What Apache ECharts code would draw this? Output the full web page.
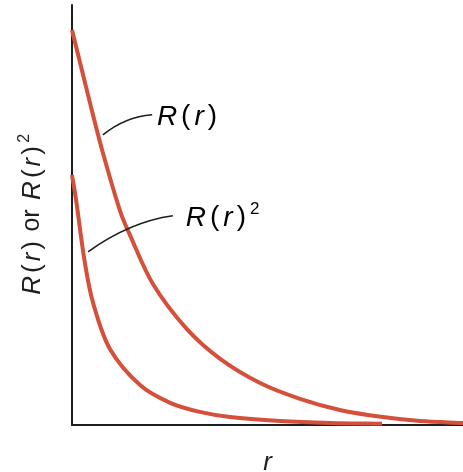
<!DOCTYPE html>
<html>
<head>
<meta charset="utf-8">
<script src="https://cdn.jsdelivr.net/npm/echarts@6/dist/echarts.min.js"></script>
<style>
  html, body { margin: 0; padding: 0; background: #fff; }
  #chart { width: 463px; height: 472px; }
</style>
</head>
<body>
<div id="chart"></div>
<script>
// Radial function R(r) and its square, sampled along r
const rR   = [0, 0.46, 0.79, 1.23, 1.48, 2.07, 2.94, 3.79, 4.81, 5.83, 6.85, 7.95, 8.90, 10];
const valR = [0.997, 0.813, 0.687, 0.540, 0.480, 0.356, 0.242, 0.167, 0.106, 0.066, 0.038, 0.020, 0.010, 0.005];

const rR2   = [0, 0.10, 0.33, 0.54, 0.97, 1.74, 2.51, 3.27, 4.04, 5.32, 6.60, 7.93];
const valR2 = [0.631, 0.571, 0.409, 0.308, 0.192, 0.101, 0.056, 0.033, 0.020, 0.010, 0.005, 0.003];

// Callout leaders (start, control, end) and label anchors, in data units
const leaderR  = [[0.79, 0.732], [1.36, 0.778], [2.05, 0.783]];
const labelR   = [2.12, 0.778];
const leaderR2 = [[0.41, 0.437], [1.48, 0.513], [2.58, 0.528]];
const labelR2  = [2.86, 0.523];

const RED = '#d4503a';
const INK = '#1e1e1e';
const FONT = '"Liberation Sans", Arial, sans-serif';

const chart = echarts.init(document.getElementById('chart'), null, { renderer: 'canvas' });

const pairs = (xs, ys) => xs.map((x, i) => [x, ys[i]]);

// Smooth curve through pixel points: cubic segments with chord-scaled tangents
function smoothPath(pts) {
  const n = pts.length;
  const d = [];
  for (let i = 0; i < n - 1; i++) {
    d.push(Math.hypot(pts[i + 1][0] - pts[i][0], pts[i + 1][1] - pts[i][1]));
  }
  const m = pts.map((p, i) => {
    if (i === 0) return [(pts[1][0] - p[0]) / d[0], (pts[1][1] - p[1]) / d[0]];
    if (i === n - 1) return [(p[0] - pts[i - 1][0]) / d[i - 1], (p[1] - pts[i - 1][1]) / d[i - 1]];
    const s = d[i - 1] + d[i];
    return [(pts[i + 1][0] - pts[i - 1][0]) / s, (pts[i + 1][1] - pts[i - 1][1]) / s];
  });
  let path = 'M' + pts[0][0] + ' ' + pts[0][1];
  for (let i = 0; i < n - 1; i++) {
    const k = d[i] / 3;
    const c1 = [pts[i][0] + m[i][0] * k, pts[i][1] + m[i][1] * k];
    const c2 = [pts[i + 1][0] - m[i + 1][0] * k, pts[i + 1][1] - m[i + 1][1] * k];
    path += ' C' + c1[0] + ' ' + c1[1] + ' ' + c2[0] + ' ' + c2[1] + ' ' + pts[i + 1][0] + ' ' + pts[i + 1][1];
  }
  return path;
}

function curveSeries(name, xs, ys) {
  const data = pairs(xs, ys);
  return {
    name: name, type: 'custom', z: 3, clip: false,
    encode: { x: 0, y: 1 },
    data: data,
    renderItem: function (params, api) {
      if (params.dataIndex !== 0) return null;
      const pts = data.map(p => api.coord(p));
      return {
        type: 'path',
        shape: { pathData: smoothPath(pts) },
        style: { stroke: RED, lineWidth: 4, fill: null, lineCap: 'butt', lineJoin: 'round' }
      };
    }
  };
}

const richText = {
  v: { fontFamily: FONT, fontStyle: 'italic', fontSize: 28, color: INK, padding: [0, 2] },
  p: { fontFamily: FONT, fontSize: 28, color: INK, padding: [0, 2] },
  s: { fontFamily: FONT, fontSize: 17, color: INK, padding: [0, 0, 16, 2] }
};
const axisRich = {
  v: { fontFamily: FONT, fontStyle: 'italic', fontSize: 26, color: INK, padding: [0, 1.5] },
  p: { fontFamily: FONT, fontSize: 26, color: INK, padding: [0, 1.5] },
  w: { fontFamily: FONT, fontSize: 25, color: INK, padding: [0, 1] },
  s: { fontFamily: FONT, fontSize: 16, color: INK, padding: [0, 0, 15, 2] }
};
const fn = '{v|R}{p|(}{v|r}{p|)}';

chart.setOption({
  animation: false,
  backgroundColor: '#fff',
  grid: { left: 72, right: 0, top: 5, bottom: 47, outerBoundsMode: 'none', containLabel: false },
  xAxis: {
    type: 'value', min: 0, max: 10,
    name: 'r', nameLocation: 'middle', nameGap: 25,
    nameTextStyle: { fontFamily: FONT, fontStyle: 'italic', fontSize: 26, color: INK },
    axisLine: { show: true, lineStyle: { color: INK, width: 2 } },
    axisTick: { show: false }, axisLabel: { show: false }, splitLine: { show: false }
  },
  yAxis: {
    type: 'value', min: 0, max: 1.06,
    name: fn + '{w| or }' + fn + '{s|2}', nameLocation: 'middle', nameGap: 24,
    nameTextStyle: { rich: axisRich },
    axisLine: { show: true, lineStyle: { color: INK, width: 2 } },
    axisTick: { show: false }, axisLabel: { show: false }, splitLine: { show: false }
  },
  series: [
    curveSeries('R(r)', rR, valR),
    curveSeries('R(r)^2', rR2, valR2)
  ]
});

// Leader curves and callout labels, placed through the grid's coordinate system
function px(p) { return chart.convertToPixel({ gridIndex: 0 }, p); }
function leader(pts) {
  const a = px(pts[0]), c = px(pts[1]), b = px(pts[2]);
  return {
    type: 'bezierCurve', z: 10,
    shape: { x1: a[0], y1: a[1], cpx1: c[0], cpy1: c[1], x2: b[0], y2: b[1] },
    style: { stroke: INK, lineWidth: 1.6, fill: null }
  };
}
function label(p, text) {
  const q = px(p);
  return {
    type: 'text', z: 10, x: q[0], y: q[1],
    style: { text: text, rich: richText, align: 'left', verticalAlign: 'middle' }
  };
}

chart.setOption({
  graphic: [
    leader(leaderR), label(labelR, fn),
    leader(leaderR2), label(labelR2, fn + '{s|2}')
  ]
});
</script>
</body>
</html>
